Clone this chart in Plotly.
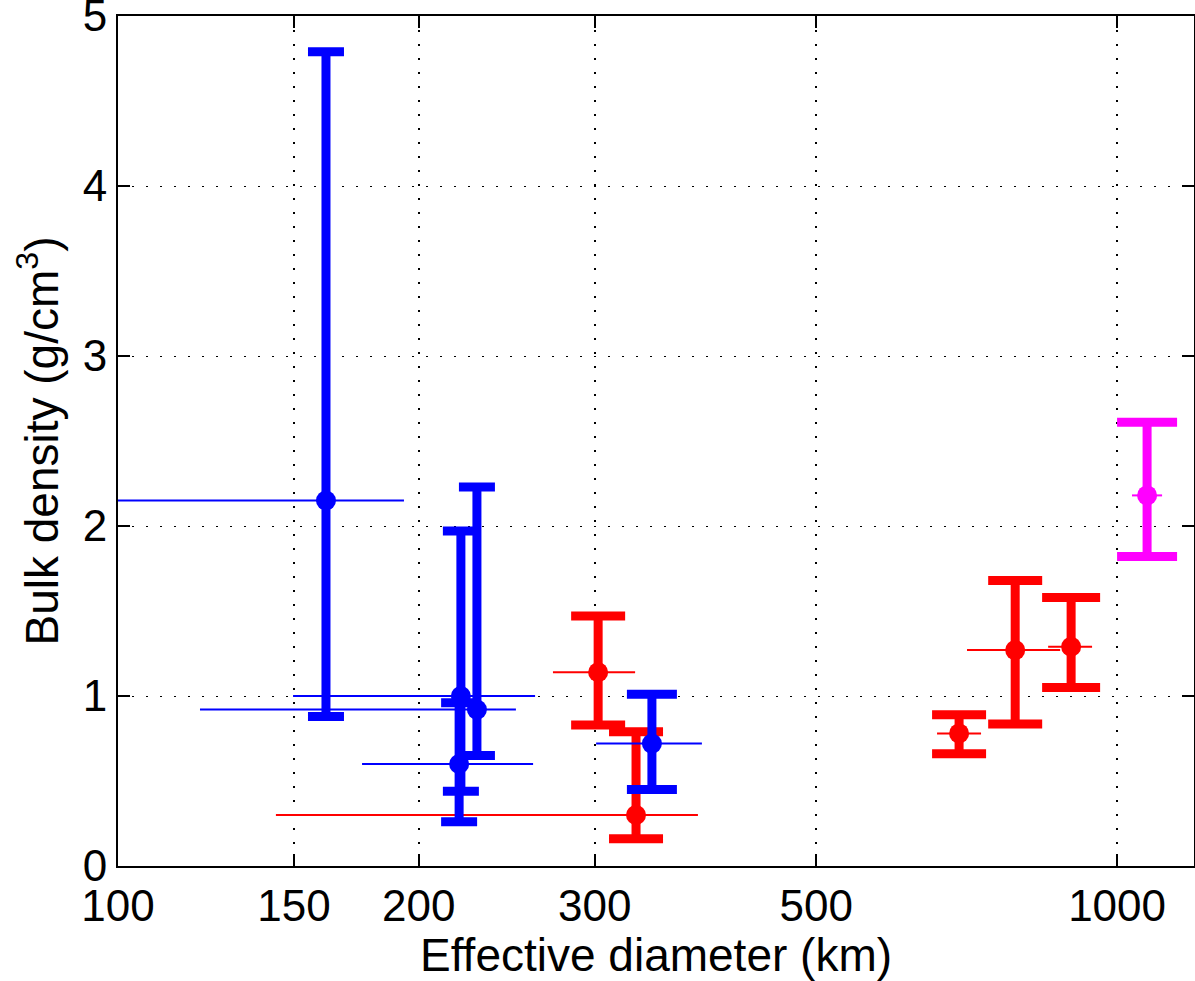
import plotly.graph_objects as go

# ---------------- data ----------------
# Blue group
blue_diam = [161.5, 220.4, 228.7, 219.5, 342.3]
blue_diam_minus = [70.0, 70.7, 107.9, 44.0, 41.3]
blue_diam_plus = [31.8, 41.1, 21.5, 40.8, 41.8]
blue_rho = [2.15, 1.00, 0.92, 0.60, 0.72]
blue_rho_plus = [2.64, 0.97, 1.31, 0.36, 0.29]
blue_rho_minus = [1.27, 0.56, 0.27, 0.34, 0.27]

# Red group
red_diam = [302.4, 330.0, 694.8, 790.7, 899.5]
red_diam_minus = [29.9, 186.1, 34.4, 83.1, 46.4]
red_diam_plus = [26.9, 50.6, 36.1, 86.3, 44.5]
red_rho = [1.14, 0.30, 0.78, 1.27, 1.29]
red_rho_plus = [0.33, 0.49, 0.11, 0.41, 0.29]
red_rho_minus = [0.31, 0.14, 0.12, 0.435, 0.24]

# Magenta point
mag_diam = [1071.6]
mag_diam_minus = [36.6]
mag_diam_plus = [37.7]
mag_rho = [2.18]
mag_rho_plus = [0.43]
mag_rho_minus = [0.36]

x_tickvals = [100, 150, 200, 300, 500, 1000]
x_ticktext = ["100", "150", "200", "300", "500", "1000"]
y_tickvals = [0, 1, 2, 3, 4, 5]
y_ticktext = ["0", "1", "2", "3", "4", "5"]

# ---------------- styles ----------------
FONT = "Liberation Sans, Arial, Helvetica, sans-serif"
blue_caps = [18, 18, 18, 18, 25]
red_caps = [27, 27, 27, 27, 29]
mag_caps = [30]

fig = go.Figure()


def add_group(diam, dminus, dplus, rho, rplus, rminus, caps, color):
    for i in range(len(diam)):
        fig.add_trace(go.Scatter(
            x=[diam[i]], y=[rho[i]],
            mode="markers",
            marker=dict(color=color, size=20, line=dict(width=0)),
            error_y=dict(type="data", symmetric=False,
                         array=[rplus[i]], arrayminus=[rminus[i]],
                         color=color, thickness=9, width=caps[i]),
            error_x=dict(type="data", symmetric=False,
                         array=[dplus[i]], arrayminus=[dminus[i]],
                         color=color, thickness=2, width=0),
            showlegend=False,
            hoverinfo="x+y",
        ))


add_group(red_diam, red_diam_minus, red_diam_plus, red_rho,
          red_rho_plus, red_rho_minus, red_caps, "#FF0000")
add_group(blue_diam, blue_diam_minus, blue_diam_plus, blue_rho,
          blue_rho_plus, blue_rho_minus, blue_caps, "#0000FF")
add_group(mag_diam, mag_diam_minus, mag_diam_plus, mag_rho,
          mag_rho_plus, mag_rho_minus, mag_caps, "#FF00FF")

fig.update_layout(
    width=1195, height=981,
    margin=dict(l=118, r=1, t=16, b=115, pad=0),
    plot_bgcolor="white", paper_bgcolor="white",
    showlegend=False,
    font=dict(family=FONT, size=44, color="black"),
)

fig.update_xaxes(
    type="log", range=[2, 3.077],
    tickvals=x_tickvals, ticktext=x_ticktext,
    ticks="inside", ticklen=12, tickwidth=1.5, tickcolor="black",
    showline=True, linewidth=2, linecolor="black", mirror="ticks",
    showgrid=True, gridcolor="black", gridwidth=1.5, griddash="2px,12px",
    zeroline=False, automargin=False, ticklabeloverflow="allow",
    tickfont=dict(family=FONT, size=44, color="black"),
    title=dict(text="Effective diameter (km)", standoff=4,
               font=dict(family=FONT, size=46, color="black")),
)

fig.update_yaxes(
    range=[0, 5],
    tickvals=y_tickvals, ticktext=y_ticktext,
    ticks="inside", ticklen=12, tickwidth=1.5, tickcolor="black",
    showline=True, linewidth=2, linecolor="black", mirror="ticks",
    showgrid=True, gridcolor="black", gridwidth=1, griddash="2px,12px",
    zeroline=False, automargin=False, ticklabeloverflow="allow",
    tickfont=dict(family=FONT, size=44, color="black"),
    title=dict(text="Bulk density (g/cm<sup>3</sup>)", standoff=10,
               font=dict(family=FONT, size=46, color="black")),
)

fig.write_html("out.html", config={"displayModeBar": False},
               post_script="document.body.style.margin='0';")
